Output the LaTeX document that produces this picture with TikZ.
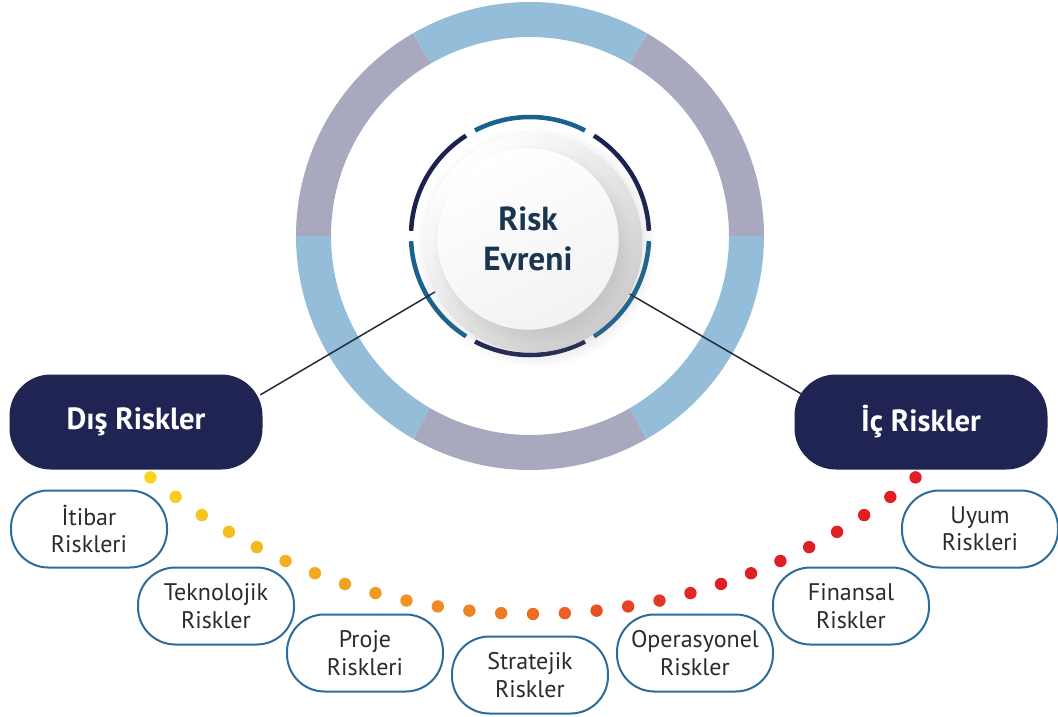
\documentclass[tikz,border=0pt]{standalone}
\usepackage{fontspec}
\setmainfont{PT Sans}
\usetikzlibrary{shadows,calc}
\definecolor{ringblue}{HTML}{94BDD9}
\definecolor{ringgrey}{HTML}{A8A8BE}
\definecolor{segblue}{HTML}{17628F}
\definecolor{segnavy}{HTML}{1C2150}
\definecolor{pillnavy}{HTML}{1F2453}
\definecolor{boxline}{HTML}{2D6B9B}
\definecolor{txtdark}{HTML}{2B2B2B}
\definecolor{titletxt}{HTML}{1B3550}
\definecolor{dyel}{HTML}{F8D41C}
\definecolor{dora}{HTML}{EE8024}
\definecolor{dred}{HTML}{E11E26}
\definecolor{linec}{HTML}{1F2A38}
\begin{document}
\begin{tikzpicture}[x=0.75pt,y=-0.75pt,
  pill/.style={fill=pillnavy, rounded corners=31pt, minimum width=189.75pt, minimum height=71.25pt,
    text=white, font=\bfseries\fontsize{23}{27}\selectfont, inner sep=0pt},
  riskbox/.style={draw=boxline, line width=1.5pt, fill=white, rounded corners=28pt,
    minimum width=117pt, minimum height=57.75pt, align=center, text=txtdark,
    font=\fontsize{18}{20.5}\selectfont, inner sep=0pt},
  connector/.style={draw=linec, line width=1.1pt},
  outerseg/.style={line width=26.25pt},
  innerseg/.style={line width=3.4pt}
]
\useasboundingbox (0,0) rectangle (1058,717);
\coordinate (c) at (530,236);
\coordinate (dcen) at (533,10);

% outer ring
\foreach \a/\col in {0/ringgrey,60/ringblue,120/ringgrey,180/ringblue,240/ringgrey,300/ringblue}{
  \draw[outerseg, draw=\col] ($(c)+(-\a:216.5)$) arc[start angle=-\a, end angle=-\a-60, radius=216.5];
}
% inner segmented ring
\foreach \a/\col in {0/segnavy,60/segblue,120/segnavy,180/segblue,240/segnavy,300/segblue}{
  \draw[innerseg, draw=\col] ($(c)+(-\a-2.5:119)$) arc[start angle=-\a-2.5, end angle=-\a-57.5, radius=119];
}

% connector end points
\coordinate (eL) at ($(c)+(-210.5:104)$);
\coordinate (aL) at ($(c)+(-210.5:313)$);
\coordinate (eR) at ($(c)+(30.2:104)$);
\coordinate (aR) at ($(c)+(30.2:316)$);
\draw[connector] (eL) -- (aL);
\draw[connector] (eR) -- (aR);

% button
\node (base) [circle, minimum size=164pt, inner sep=0pt, top color=white, bottom color=black!20,
  shading angle=40, circular drop shadow={shadow xshift=2pt, shadow yshift=-3pt, opacity=0.18}] at (533,243) {};
\node (btn) [circle, minimum size=136pt, inner sep=0pt, top color=white, bottom color=black!5,
  shading angle=25, circular drop shadow={shadow xshift=3pt, shadow yshift=-4pt, opacity=0.15},
  align=center, text=titletxt, font=\bfseries\fontsize{25}{30}\selectfont] at (528,239) {Risk\\Evreni};

% dots
\foreach \i in {0,...,26}{
  \pgfmathsetmacro\ang{129.3-\i*3.023}
  \pgfmathtruncatemacro\pa{max(0,min(100,100*(1-\i/26/0.45)))}
  \pgfmathtruncatemacro\pb{max(0,min(100,100*(1-(\i/26-0.45)/0.27)))}
  \colorlet{midc}{dora!\pb!dred}
  \colorlet{dotc}{dyel!\pa!midc}
  \fill[dotc] ($(dcen)+(\ang:604)$) circle (6.2);
}

% pills
\node[pill] (dis) at (136,422) {Dış Riskler};
\node[pill] (ic) at (921,422) {İç Riskler};

% risk boxes
\node[riskbox] (itibar) at (89,529) {İtibar\\Riskleri};
\node[riskbox] (tekno) at (216,606) {Teknolojik\\Riskler};
\node[riskbox] (proje) at (365,653) {Proje\\Riskleri};
\node[riskbox] (strat) at (530,675) {Stratejik\\Riskler};
\node[riskbox] (opera) at (695,653) {Operasyonel\\Riskler};
\node[riskbox] (finan) at (851,606) {Finansal\\Riskler};
\node[riskbox] (uyum) at (980,529) {Uyum\\Riskleri};
\end{tikzpicture}
\end{document}
